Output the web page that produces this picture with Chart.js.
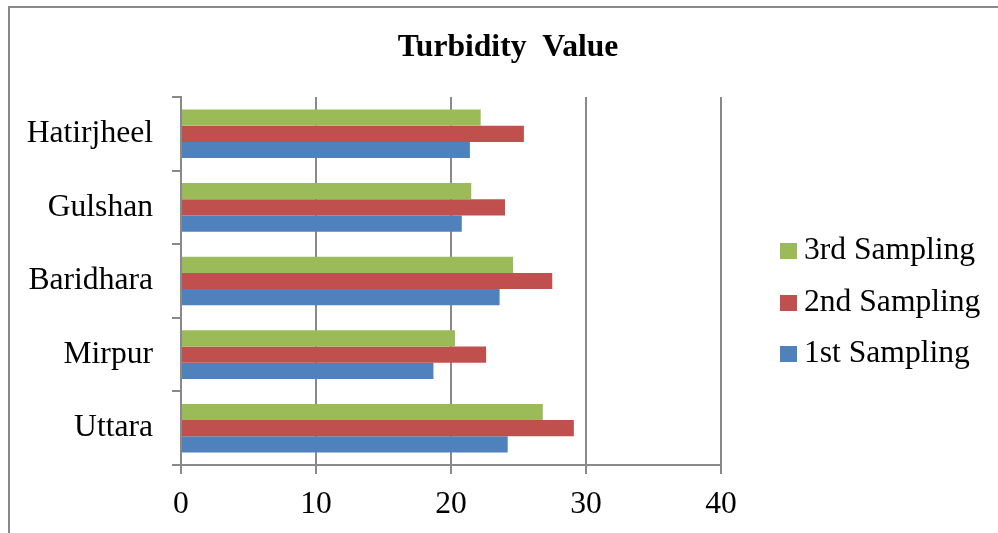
<!DOCTYPE html>
<html>
<head>
<meta charset="utf-8">
<title>Turbidity Value</title>
<script src="https://cdn.jsdelivr.net/npm/chart.js@4.4.1/dist/chart.umd.min.js"></script>
<style>
  html, body { margin: 0; padding: 0; background: #ffffff; }
  #wrap { position: relative; width: 998px; height: 533px; }
</style>
</head>
<body>
<div id="wrap"><canvas id="chart" width="998" height="533"></canvas></div>
<script>
// Sampling sites (top to bottom)
const sites = ['Hatirjheel', 'Gulshan', 'Baridhara', 'Mirpur', 'Uttara'];

// Turbidity readings per sampling round
const thirdSampling  = [22.2, 21.5, 24.6, 20.3, 26.8];
const secondSampling = [25.4, 24.0, 27.5, 22.6, 29.1];
const firstSampling  = [21.4, 20.8, 23.6, 18.7, 24.2];

const seriesNames = ['3rd Sampling', '2nd Sampling', '1st Sampling'];
const xTicks = [0, 10, 20, 30, 40];

const SERIF = "'Liberation Serif', 'Times New Roman', serif";
const GRID = '#898989';
const LABEL_SIZE = 31.6;

// Frame, title and legend drawn on the canvas
const decorations = {
  id: 'decorations',
  beforeDraw(chart) {
    const ctx = chart.ctx;
    ctx.save();
    ctx.fillStyle = '#ffffff';
    ctx.fillRect(0, 0, chart.width, chart.height);
    ctx.fillStyle = GRID;
    ctx.fillRect(8, 6, 2, chart.height - 6);
    ctx.fillRect(8, 6, chart.width - 8, 2);
    ctx.restore();
  },
  afterDraw(chart) {
    const ctx = chart.ctx;
    ctx.save();
    ctx.fillStyle = '#000000';
    ctx.font = 'bold 31.6px ' + SERIF;
    ctx.textAlign = 'center';
    ctx.textBaseline = 'alphabetic';
    ctx.fillText('Turbidity  Value', 508, 56);

    ctx.font = LABEL_SIZE + 'px ' + SERIF;
    ctx.textAlign = 'left';
    const centers = [251, 303, 354];
    chart.data.datasets.forEach((ds, i) => {
      const cy = centers[i];
      ctx.fillStyle = ds.backgroundColor;
      ctx.fillRect(780, cy - 8, 17, 16);
      ctx.fillStyle = '#000000';
      ctx.fillText(ds.label, 804, cy + 8);
    });
    ctx.restore();
  }
};

new Chart(document.getElementById('chart'), {
  type: 'bar',
  data: {
    labels: sites,
    datasets: [
      { label: seriesNames[0], data: thirdSampling,  backgroundColor: '#9BBB59' },
      { label: seriesNames[1], data: secondSampling, backgroundColor: '#C0504D' },
      { label: seriesNames[2], data: firstSampling,  backgroundColor: '#4F81BD' }
    ]
  },
  options: {
    indexAxis: 'y',
    responsive: false,
    devicePixelRatio: 1,
    animation: false,
    events: [],
    layout: { padding: { top: 97, right: 277, bottom: 0, left: 0 } },
    datasets: { bar: { categoryPercentage: 0.66, barPercentage: 1.0 } },
    plugins: {
      legend: { display: false },
      title: { display: false },
      tooltip: { enabled: false }
    },
    scales: {
      x: {
        type: 'linear',
        min: xTicks[0],
        max: xTicks[xTicks.length - 1],
        afterBuildTicks(axis) { axis.ticks = xTicks.map(v => ({ value: v })); },
        afterFit(axis) { axis.height = 68; },
        grid: { color: GRID, lineWidth: 2, tickLength: 9, drawOnChartArea: true },
        border: { display: true, color: GRID, width: 2 },
        ticks: { color: '#000000', font: { family: SERIF, size: LABEL_SIZE }, padding: 12, maxRotation: 0 }
      },
      y: {
        afterFit(axis) { axis.width = 181; },
        grid: { offset: true, color: GRID, lineWidth: 2, tickLength: 9, drawOnChartArea: false },
        border: { display: true, color: GRID, width: 2 },
        ticks: { color: '#000000', font: { family: SERIF, size: LABEL_SIZE }, padding: 19 }
      }
    }
  },
  plugins: [decorations]
});
</script>
</body>
</html>
